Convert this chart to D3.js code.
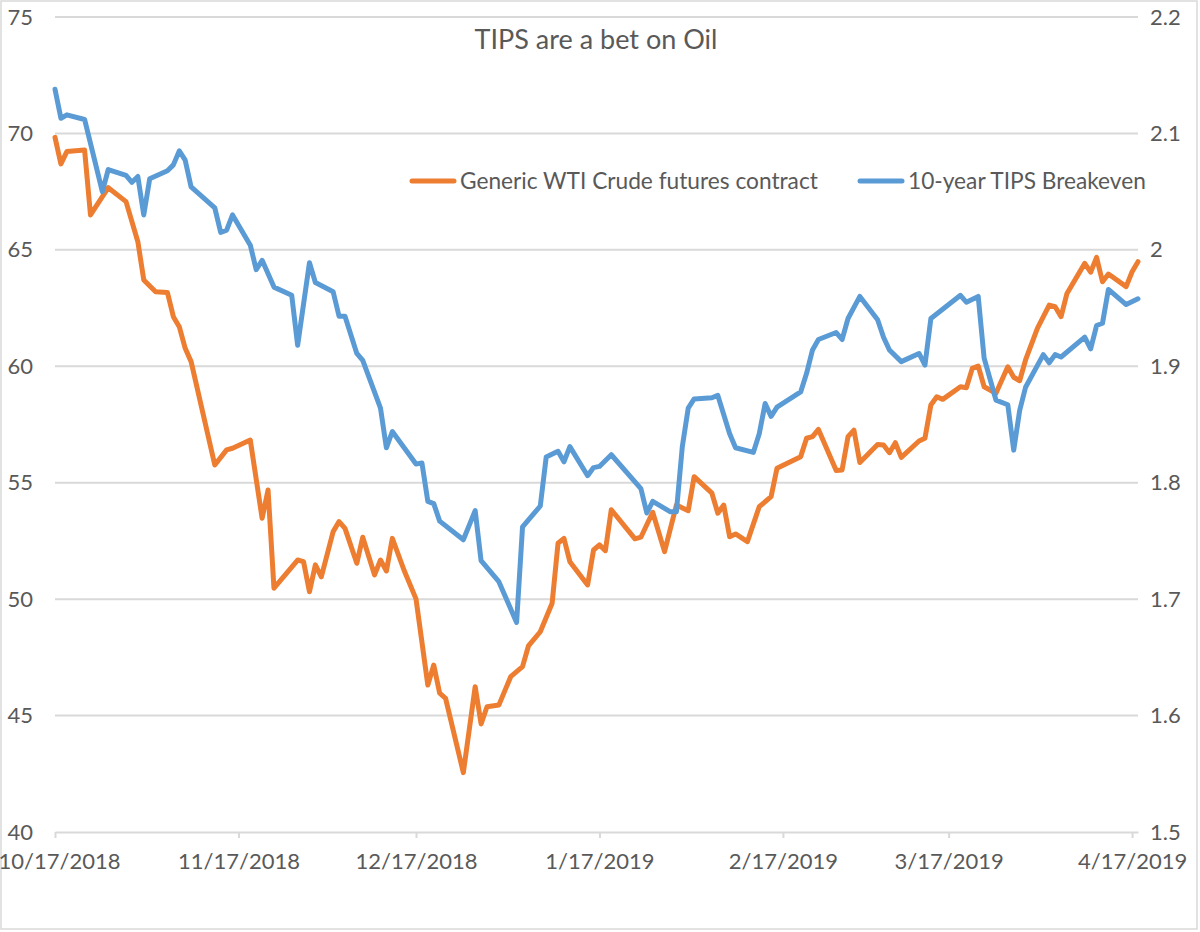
<!DOCTYPE html>
<html>
<head>
<meta charset="utf-8">
<script src="https://cdn.jsdelivr.net/npm/d3@7"></script>
<style>
  body { margin: 0; background: #fff; }
  text { font-family: Lato, "Open Sans", sans-serif; fill: #595959; }
</style>
</head>
<body>
<div id="chart"></div>
<script>
var title = "TIPS are a bet on Oil";
var seriesNames = ["Generic WTI Crude futures contract", "10-year TIPS Breakeven"];
var xTicks = ["10/17/2018", "11/17/2018", "12/17/2018", "1/17/2019", "2/17/2019", "3/17/2019", "4/17/2019"];
var leftTicks = [40, 45, 50, 55, 60, 65, 70, 75];
var rightTicks = [1.5, 1.6, 1.7, 1.8, 1.9, 2, 2.1, 2.2];

var wtiDates = ["10/17/2018","10/18/2018","10/19/2018","10/22/2018","10/23/2018","10/26/2018","10/29/2018","10/31/2018",
  "11/1/2018","11/3/2018","11/5/2018","11/6/2018","11/7/2018","11/8/2018","11/9/2018","11/13/2018","11/15/2018","11/16/2018",
  "11/19/2018","11/21/2018","11/22/2018","11/23/2018","11/27/2018","11/28/2018","11/29/2018","11/30/2018",
  "12/1/2018","12/3/2018","12/4/2018","12/5/2018","12/7/2018","12/8/2018","12/10/2018","12/11/2018","12/12/2018","12/13/2018",
  "12/15/2018","12/17/2018","12/19/2018","12/20/2018","12/21/2018","12/22/2018","12/25/2018","12/27/2018","12/28/2018","12/29/2018","12/31/2018",
  "1/2/2019","1/4/2019","1/5/2019","1/7/2019","1/9/2019","1/10/2019","1/11/2019","1/12/2019","1/15/2019","1/16/2019","1/17/2019",
  "1/18/2019","1/19/2019","1/23/2019","1/24/2019","1/26/2019","1/28/2019","1/30/2019",
  "2/1/2019","2/2/2019","2/5/2019","2/6/2019","2/7/2019","2/8/2019","2/9/2019","2/11/2019","2/13/2019","2/15/2019","2/16/2019",
  "2/20/2019","2/21/2019","2/22/2019","2/23/2019","2/26/2019","2/27/2019","2/28/2019",
  "3/1/2019","3/2/2019","3/5/2019","3/6/2019","3/7/2019","3/8/2019","3/9/2019","3/12/2019","3/13/2019","3/14/2019","3/15/2019",
  "3/16/2019","3/19/2019","3/20/2019","3/21/2019","3/22/2019","3/23/2019","3/25/2019","3/27/2019","3/28/2019","3/29/2019","3/30/2019",
  "4/1/2019","4/3/2019","4/4/2019","4/5/2019","4/6/2019","4/9/2019","4/10/2019","4/11/2019","4/12/2019","4/13/2019","4/16/2019","4/17/2019","4/18/2019"];
var wtiValues = [69.83,68.69,69.22,69.29,66.50,67.67,67.07,65.35,
  63.71,63.20,63.17,62.13,61.70,60.77,60.20,55.76,56.41,56.48,
  56.83,53.47,54.69,50.47,51.68,51.61,50.32,51.47,
  50.96,52.90,53.33,53.04,51.54,52.66,51.04,51.68,51.21,52.61,
  51.23,50.01,46.31,47.17,45.96,45.74,42.55,46.24,44.64,45.38,45.45,
  46.67,47.10,47.99,48.60,49.82,52.40,52.61,51.61,50.61,52.11,52.33,
  52.08,53.84,52.59,52.66,53.73,52.04,54.04,
  53.80,55.26,54.55,53.69,54.04,52.68,52.80,52.47,53.97,54.40,55.62,
  56.12,56.91,56.98,57.29,55.52,55.55,56.98,
  57.26,55.87,56.64,56.62,56.29,56.72,56.09,56.79,56.91,58.34,58.69,
  58.58,59.12,59.08,59.91,60.01,59.12,58.84,59.98,59.53,59.38,60.27,
  61.63,62.63,62.56,62.13,63.13,64.42,64.04,64.68,63.63,63.96,63.42,64.06,64.49];

var tipsDates = ["10/17/2018","10/18/2018","10/19/2018","10/22/2018","10/25/2018","10/26/2018","10/29/2018","10/30/2018","10/31/2018",
  "11/1/2018","11/2/2018","11/5/2018","11/6/2018","11/7/2018","11/8/2018","11/9/2018","11/13/2018","11/14/2018","11/15/2018","11/16/2018",
  "11/19/2018","11/20/2018","11/21/2018","11/23/2018","11/26/2018","11/27/2018","11/29/2018","11/30/2018",
  "12/3/2018","12/4/2018","12/5/2018","12/7/2018","12/8/2018","12/11/2018","12/12/2018","12/13/2018","12/15/2018","12/17/2018",
  "12/18/2018","12/19/2018","12/20/2018","12/21/2018","12/25/2018","12/27/2018","12/28/2018","12/31/2018",
  "1/3/2019","1/4/2019","1/7/2019","1/8/2019","1/10/2019","1/11/2019","1/12/2019","1/15/2019","1/16/2019","1/17/2019","1/19/2019",
  "1/24/2019","1/25/2019","1/26/2019","1/29/2019","1/30/2019","1/31/2019",
  "2/1/2019","2/2/2019","2/5/2019","2/6/2019","2/8/2019","2/9/2019","2/12/2019","2/13/2019","2/14/2019","2/15/2019","2/16/2019",
  "2/20/2019","2/21/2019","2/22/2019","2/23/2019","2/26/2019","2/27/2019","2/28/2019",
  "3/2/2019","3/5/2019","3/6/2019","3/7/2019","3/9/2019","3/12/2019","3/13/2019","3/14/2019","3/19/2019","3/20/2019","3/22/2019",
  "3/23/2019","3/25/2019","3/27/2019","3/28/2019","3/29/2019","3/30/2019",
  "4/2/2019","4/3/2019","4/4/2019","4/5/2019","4/9/2019","4/10/2019","4/11/2019","4/12/2019","4/13/2019","4/16/2019","4/18/2019"];
var tipsValues = [2.138,2.113,2.116,2.112,2.050,2.069,2.064,2.058,2.063,
  2.030,2.061,2.068,2.073,2.085,2.077,2.054,2.036,2.015,2.017,2.030,
  2.004,1.983,1.991,1.968,1.961,1.918,1.989,1.972,
  1.964,1.943,1.943,1.911,1.905,1.864,1.830,1.844,1.830,1.816,
  1.817,1.784,1.782,1.767,1.751,1.776,1.733,1.715,
  1.680,1.762,1.780,1.822,1.827,1.818,1.831,1.806,1.813,1.814,1.824,
  1.795,1.774,1.784,1.775,1.775,1.831,
  1.864,1.872,1.873,1.875,1.842,1.830,1.826,1.842,1.868,1.857,1.865,
  1.878,1.894,1.914,1.923,1.929,1.923,1.941,
  1.960,1.940,1.925,1.914,1.904,1.911,1.901,1.941,1.961,1.955,1.960,
  1.907,1.871,1.867,1.828,1.862,1.882,
  1.910,1.903,1.910,1.908,1.925,1.915,1.935,1.937,1.966,1.953,1.958];

var width = 1200, height = 932;
var parse = d3.timeParse("%m/%d/%Y");
var fmt = d3.timeFormat("%-m/%-d/%Y");

var svg = d3.select("#chart").append("svg")
    .attr("width", width)
    .attr("height", height);

svg.append("rect")
    .attr("x", 1).attr("y", 1)
    .attr("width", width - 4).attr("height", height - 4)
    .attr("fill", "#fff")
    .attr("stroke", "#d9d9d9")
    .attr("stroke-width", 1.5);

var x = d3.scaleTime()
    .domain([parse("10/17/2018"), parse("4/18/2019")])
    .range([55, 1138]);
var yL = d3.scaleLinear().domain([40, 75]).range([832, 17]);
var yR = d3.scaleLinear().domain([1.5, 2.2]).range([832, 17]);

// gridlines
svg.append("g").selectAll("line")
    .data(leftTicks.slice(1))
    .enter().append("line")
      .attr("x1", 55).attr("x2", 1138)
      .attr("y1", function(d) { return yL(d); })
      .attr("y2", function(d) { return yL(d); })
      .attr("stroke", "#d9d9d9")
      .attr("stroke-width", 2);

// x axis
var xAxis = svg.append("g")
    .attr("transform", "translate(0," + yL(40) + ")")
    .call(d3.axisBottom(x)
      .tickValues(xTicks.map(parse))
      .tickFormat(fmt)
      .tickSizeInner(6)
      .tickSizeOuter(0)
      .tickPadding(15));
xAxis.select(".domain").attr("stroke", "#d9d9d9").attr("stroke-width", 2);
xAxis.selectAll(".tick line").attr("stroke", "#d9d9d9").attr("stroke-width", 2);
xAxis.selectAll(".tick text")
    .attr("font-size", 22)
    .style("font-family", "Lato, sans-serif")
    .attr("fill", "#595959")
    .attr("dx", function(d, i) { return i === 0 ? 4 : 0; });

// left axis
var leftAxis = svg.append("g")
    .attr("transform", "translate(55,0)")
    .call(d3.axisLeft(yL).tickValues(leftTicks).tickSize(0).tickPadding(22));
leftAxis.select(".domain").remove();
leftAxis.selectAll(".tick text")
    .attr("font-size", 22)
    .style("font-family", "Lato, sans-serif")
    .attr("fill", "#595959");

// right axis
var rightAxis = svg.append("g")
    .attr("transform", "translate(1138,0)")
    .call(d3.axisRight(yR).tickValues(rightTicks).tickFormat(d3.format("~g")).tickSize(0).tickPadding(12));
rightAxis.select(".domain").remove();
rightAxis.selectAll(".tick text")
    .attr("font-size", 22)
    .style("font-family", "Lato, sans-serif")
    .attr("fill", "#595959");

// lines
var wti = wtiDates.map(function(d, i) { return { date: parse(d), value: wtiValues[i] }; });
var tips = tipsDates.map(function(d, i) { return { date: parse(d), value: tipsValues[i] }; });

var lineL = d3.line()
    .x(function(d) { return x(d.date); })
    .y(function(d) { return yL(d.value); });
var lineR = d3.line()
    .x(function(d) { return x(d.date); })
    .y(function(d) { return yR(d.value); });

svg.append("path")
    .datum(wti)
    .attr("d", lineL)
    .attr("fill", "none")
    .attr("stroke", "#ed7d31")
    .attr("stroke-width", 5)
    .attr("stroke-linejoin", "round")
    .attr("stroke-linecap", "round");

svg.append("path")
    .datum(tips)
    .attr("d", lineR)
    .attr("fill", "none")
    .attr("stroke", "#5b9bd5")
    .attr("stroke-width", 5)
    .attr("stroke-linejoin", "round")
    .attr("stroke-linecap", "round");

// title
svg.append("text")
    .attr("x", 596)
    .attr("y", 49)
    .attr("text-anchor", "middle")
    .attr("font-size", 27)
    .text(title);

// legend
var legendX = [410, 858];
var legendColors = ["#ed7d31", "#5b9bd5"];
var legend = svg.append("g").selectAll("g")
    .data(seriesNames)
    .enter().append("g")
      .attr("transform", function(d, i) { return "translate(" + legendX[i] + ",181)"; });
legend.append("line")
    .attr("x1", 2).attr("x2", 44)
    .attr("stroke", function(d, i) { return legendColors[i]; })
    .attr("stroke-width", 5)
    .attr("stroke-linecap", "round");
legend.append("text")
    .attr("x", 50)
    .attr("y", 8)
    .attr("font-size", 22.7)
    .text(function(d) { return d; });
</script>
</body>
</html>
